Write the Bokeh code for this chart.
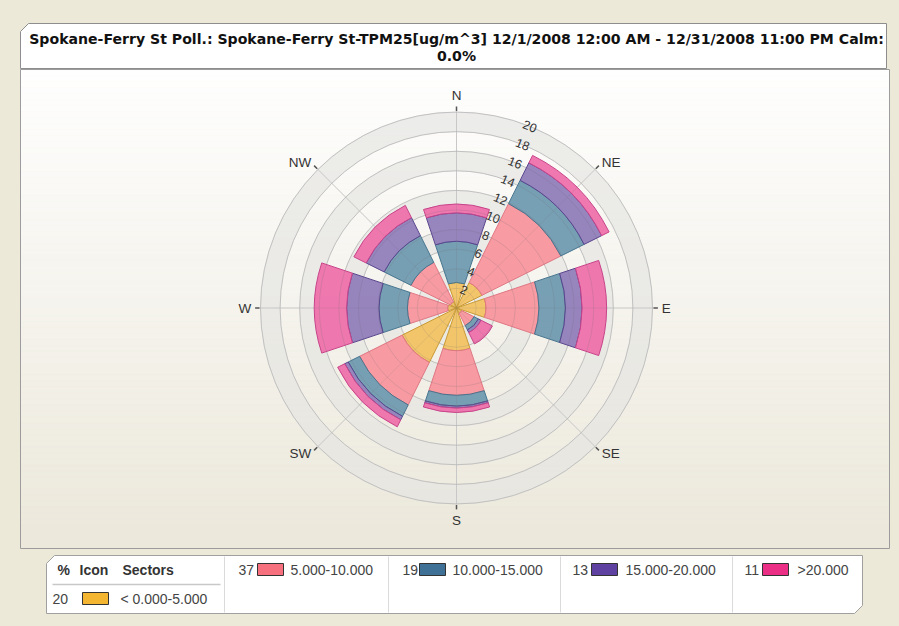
import numpy as np
from bokeh.plotting import figure
from bokeh.models import Range1d, ColumnDataSource
from bokeh.embed import file_html
from bokeh.resources import INLINE
from bokeh.core.properties import value, field

# ---------------- data ----------------
directions = ["N", "NE", "E", "SE", "S", "SW", "W", "NW"]
dir_deg = [0, 45, 90, 135, 180, 225, 270, 315]
bin_labels = ["< 0.000-5.000", "5.000-10.000", "10.000-15.000", "15.000-20.000", ">20.000"]
bin_pct = [20, 37, 19, 13, 11]
# frequency (%) per direction for each concentration bin
f_0_5 = [2.6, 2.9, 3.0, 0.6, 4.35, 6.2, 0.9, 0.7]
f_5_10 = [0.0, 9.0, 5.4, 1.4, 4.55, 4.85, 4.1, 4.5]
f_10_15 = [4.2, 2.65, 2.7, 0.5, 1.1, 1.3, 2.9, 3.05]
f_15_20 = [2.9, 2.0, 1.7, 0.3, 0.2, 0.4, 3.3, 2.05]
f_20 = [0.9, 0.85, 2.5, 1.3, 0.45, 0.8, 3.3, 1.4]
radial_ticks = [2, 4, 6, 8, 10, 12, 14, 16, 18, 20]
title_1 = "Spokane-Ferry St Poll.: Spokane-Ferry St-TPM25[ug/m^3] 12/1/2008 12:00 AM - 12/31/2008 11:00 PM Calm:"
title_2 = "0.0%"

fill_cols = ["#F2C15F", "#F7929B", "#6C98AF", "#8E7BB9", "#EE6DA9"]
edge_cols = ["#C99A35", "#E07783", "#46758F", "#5A468E", "#C8448A"]
icon_cols = ["#F4B531", "#F7707D", "#3F7095", "#5E41A0", "#EC2F86"]

# ---------------- geometry helpers (page px -> data units) ----------------
S = 9.8
PCX, PCY = 456.0, 307.5
W, H = 899, 626
def X(px):
    return (px - PCX) / S
def Y(py):
    return (PCY - py) / S

BG = "#ECE9D8"
p = figure(width=W, height=H, x_range=Range1d(X(0), X(W)), y_range=Range1d(Y(H), Y(0)),
           output_backend="svg", toolbar_location=None, min_border=0,
           x_axis_location=None, y_axis_location=None)
p.xgrid.visible = False
p.ygrid.visible = False
p.outline_line_color = None
p.background_fill_color = BG
p.border_fill_color = BG

# ---------------- plot panel with vertical gradient ----------------
n = 80
top, bot = 69.0, 548.0
edges = np.linspace(top, bot, n + 1)
c0 = np.array([255, 255, 255]); c1 = np.array([236, 232, 219])
cols = []
for i in range(n):
    t = (i + 0.5) / n
    c = (c0 * (1 - t) + c1 * t).astype(int)
    cols.append("#%02x%02x%02x" % tuple(c))
p.quad(left=X(20), right=X(889), top=[Y(v) for v in edges[:-1]], bottom=[Y(v) for v in edges[1:]],
       fill_color=cols, line_color=cols, line_width=0.5)
p.quad(left=X(20), right=X(889), top=Y(69), bottom=Y(548), fill_color=None, line_color="#9C9C9C", line_width=1)

# ---------------- title box ----------------
p.patch([X(20), X(28), X(886), X(886), X(20)], [Y(31), Y(23), Y(23), Y(68), Y(68)],
        fill_color="white", line_color="#8E8E8E", line_width=1)
p.text(x=[X(456)], y=[Y(38)], text=[title_1], text_align="center", text_baseline="middle",
       text_font=value("DejaVu Sans"), text_font_style="bold", text_font_size="14.1px", text_color="#111111")
p.text(x=[X(456)], y=[Y(55)], text=[title_2], text_align="center", text_baseline="middle",
       text_font=value("DejaVu Sans"), text_font_style="bold", text_font_size="14.1px", text_color="#111111")

# ---------------- polar background ----------------
for r0 in [2, 6, 10, 14, 18]:
    p.annulus(x=0, y=0, inner_radius=r0, outer_radius=r0 + 2, fill_color="#E4E4E2", fill_alpha=0.68, line_color=None)
p.arc(x=[0] * len(radial_ticks), y=[0] * len(radial_ticks), radius=radial_ticks,
      start_angle=0, end_angle=2 * np.pi, line_color="#D2D2D2", line_width=1)
ang = [np.deg2rad(90 - d) for d in dir_deg]
p.segment(x0=[0] * 8, y0=[0] * 8, x1=[20.3 * np.cos(a) for a in ang], y1=[20.3 * np.sin(a) for a in ang],
          line_color="#D6D6D6", line_width=1)
p.segment(x0=[20.1 * np.cos(a) for a in ang], y0=[20.1 * np.sin(a) for a in ang],
          x1=[20.55 * np.cos(a) for a in ang], y1=[20.55 * np.sin(a) for a in ang],
          line_color="#555555", line_width=1.5)

# ---------------- stacked wedges ----------------
layers = [f_0_5, f_5_10, f_10_15, f_15_20, f_20]
half = np.deg2rad(18.5)
cum = np.zeros(8)
for li, vals in enumerate(layers):
    vals = np.array(vals, dtype=float)
    inner = cum.copy(); outer = cum + vals
    keep = vals > 0
    src = ColumnDataSource(dict(
        inner=inner[keep], outer=outer[keep],
        start=[np.deg2rad(90 - d) - half for d, k in zip(dir_deg, keep) if k],
        end=[np.deg2rad(90 - d) + half for d, k in zip(dir_deg, keep) if k]))
    p.annular_wedge(x=0, y=0, inner_radius="inner", outer_radius="outer", start_angle="start", end_angle="end",
                    source=src, fill_color=fill_cols[li], fill_alpha=0.92, line_color=edge_cols[li], line_width=1)
    cum = outer

# faint grid over wedges
p.arc(x=[0] * len(radial_ticks), y=[0] * len(radial_ticks), radius=radial_ticks,
      start_angle=0, end_angle=2 * np.pi, line_color="#777777", line_alpha=0.18, line_width=1)
p.segment(x0=[0] * 8, y0=[0] * 8, x1=[20 * np.cos(a) for a in ang], y1=[20 * np.sin(a) for a in ang],
          line_color="#777777", line_alpha=0.15, line_width=1)

# ---------------- radial tick labels ----------------
la = np.deg2rad(90 - 22)
p.text(x=[r * np.cos(la) for r in radial_ticks], y=[r * np.sin(la) for r in radial_ticks],
       text=[str(r) for r in radial_ticks], angle=-np.deg2rad(22), text_align="center", text_baseline="middle",
       text_font=value("Liberation Sans"), text_font_size="12.5px", text_color="#333333")

# ---------------- compass labels ----------------
aligns = ["center", "left", "left", "left", "center", "right", "right", "right"]
bases = ["bottom", "middle", "middle", "middle", "top", "middle", "middle", "middle"]
rl = 20.95
csrc = ColumnDataSource(dict(x=[rl * np.cos(a) for a in ang], y=[rl * np.sin(a) for a in ang],
                             t=directions, al=aligns, bl=bases))
p.text(x="x", y="y", text="t", source=csrc, text_align=field("al"), text_baseline=field("bl"),
       text_font=value("Liberation Sans"), text_font_size="13.5px", text_color="#333333")

# ---------------- legend ----------------
p.patch([X(46), X(54), X(862), X(862), X(854), X(46)], [Y(563), Y(555), Y(555), Y(605), Y(613), Y(613)],
        fill_color="white", line_color="#A0A0A0", line_width=1)
sep_x = [224, 388, 560, 732]
p.segment(x0=[X(v) for v in sep_x], y0=Y(556), x1=[X(v) for v in sep_x], y1=Y(612), line_color="#DADADA", line_width=1)
p.segment(x0=[X(52)], y0=[Y(584)], x1=[X(220)], y1=[Y(584)], line_color="#C8C8C8", line_width=1.5)
p.text(x=[X(57), X(79), X(122)], y=[Y(569)] * 3, text=["%", "Icon", "Sectors"], text_align="left",
       text_baseline="middle", text_font=value("Liberation Sans"), text_font_style="bold",
       text_font_size="14px", text_color="#333333")

pct_x = [52, 238, 402, 572, 744]
icon_x = [82, 257, 419, 591, 762]
lab_x = [120, 290, 452, 625, 797]
row_y = [598, 569, 569, 569, 569]
p.text(x=[X(v) for v in pct_x], y=[Y(v) for v in row_y], text=[str(v) for v in bin_pct],
       text_align="left", text_baseline="middle", text_font=value("Liberation Sans"),
       text_font_size="14px", text_color="#444444")
p.quad(left=[X(v) for v in icon_x], right=[X(v + 26) for v in icon_x],
       top=[Y(v - 6) for v in row_y], bottom=[Y(v + 6) for v in row_y],
       fill_color=icon_cols, line_color="#333333", line_width=1)
p.text(x=[X(v) for v in lab_x], y=[Y(v) for v in row_y], text=bin_labels,
       text_align="left", text_baseline="middle", text_font=value("Liberation Sans"),
       text_font_size="14px", text_color="#444444")

html = file_html(p, INLINE)
html = html.replace("</head>", "<style>html, body { background-color: %s; margin: 0; }</style></head>" % BG, 1)
open("out.html", "w").write(html)
